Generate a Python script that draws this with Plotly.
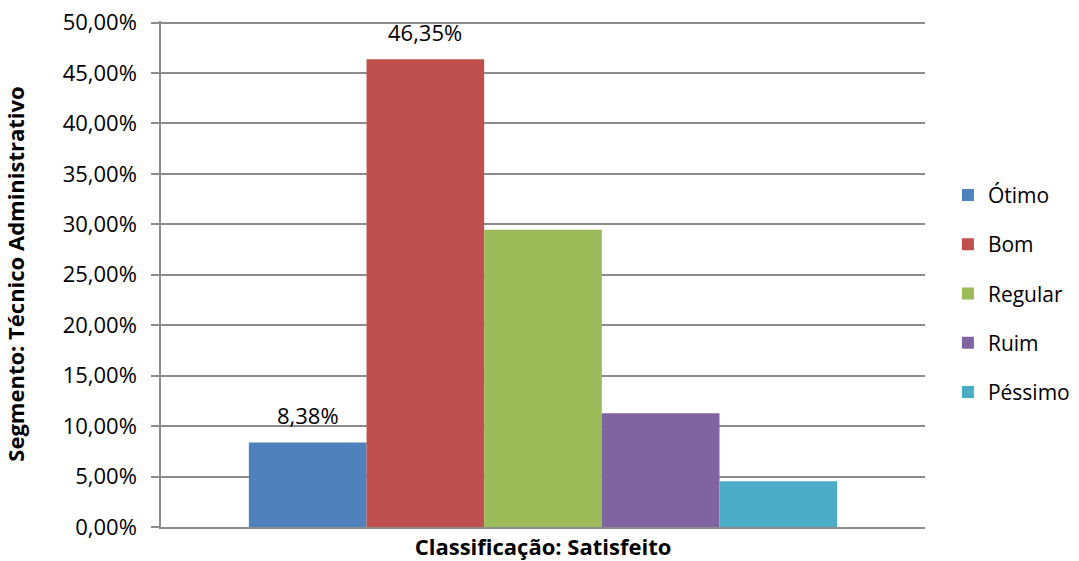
import plotly.graph_objects as go

categories = ["Classificação: Satisfeito"]
series_names = ["Ótimo", "Bom", "Regular", "Ruim", "Péssimo"]
series_values = [0.0838, 0.4635, 0.2947, 0.1127, 0.0453]
series_labels = ["8,38%", "46,35%", "", "", ""]
colors = ["#4F81BD", "#C0504D", "#9BBB59", "#8064A2", "#4BACC6"]
y_ticks = [0.0, 0.05, 0.10, 0.15, 0.20, 0.25, 0.30, 0.35, 0.40, 0.45, 0.50]

FONT = "Open Sans"
BARGAP = 0.23

fig = go.Figure()
for name, val, col in zip(series_names, series_values, colors):
    fig.add_trace(go.Bar(
        name=name, x=categories, y=[val],
        marker=dict(color=col, line=dict(width=0)),
        legendgroup=name,
    ))

# data labels positioned over the grouped bars (category index 0)
n = len(series_names)
bw = (1 - BARGAP) / n
for i, (val, lab) in enumerate(zip(series_values, series_labels)):
    if lab:
        fig.add_annotation(
            x=(i - (n - 1) / 2) * bw, y=val, xref="x", yref="y",
            text=lab, showarrow=False, yanchor="bottom", yshift=10,
            font=dict(family=FONT, size=22, color="#000000"),
        )

fig.update_layout(
    width=1079, height=561,
    margin=dict(l=161, r=154, t=21, b=34, autoexpand=False),
    paper_bgcolor="white", plot_bgcolor="white",
    barmode="group", bargap=BARGAP, bargroupgap=0,
    separators=",.",
    font=dict(family=FONT, size=22, color="#000000"),
    showlegend=True,
    legend=dict(x=1.03, y=0.461, xanchor="left", yanchor="middle",
                font=dict(family=FONT, size=21), traceorder="grouped",
                tracegroupgap=19, itemwidth=30),
    xaxis=dict(showline=True, linecolor="#8c8c8c", linewidth=1.5,
               tickfont=dict(family=FONT, size=22, weight="bold"),
               ticks="", showgrid=False, automargin=False),
    yaxis=dict(range=[0, 0.5015], tickvals=y_ticks, tickformat=".2%",
               showline=True, linecolor="#8c8c8c", linewidth=1.5,
               ticks="outside", ticklen=8, tickcolor="#8c8c8c", tickwidth=1.5,
               ticklabelstandoff=10, ticklabeloverflow="allow",
               showgrid=True, gridcolor="#8c8c8c", gridwidth=1.5,
               tickfont=dict(family=FONT, size=22),
               automargin=False,
               title=dict(text="Segmento: Técnico Administrativo", standoff=32,
                          font=dict(family=FONT, size=22, weight="bold")),
               zeroline=False),
)

fig.write_html("out.html",
               config={"displayModeBar": False},
               post_script="document.body.style.margin='0';document.body.style.overflow='hidden';")
